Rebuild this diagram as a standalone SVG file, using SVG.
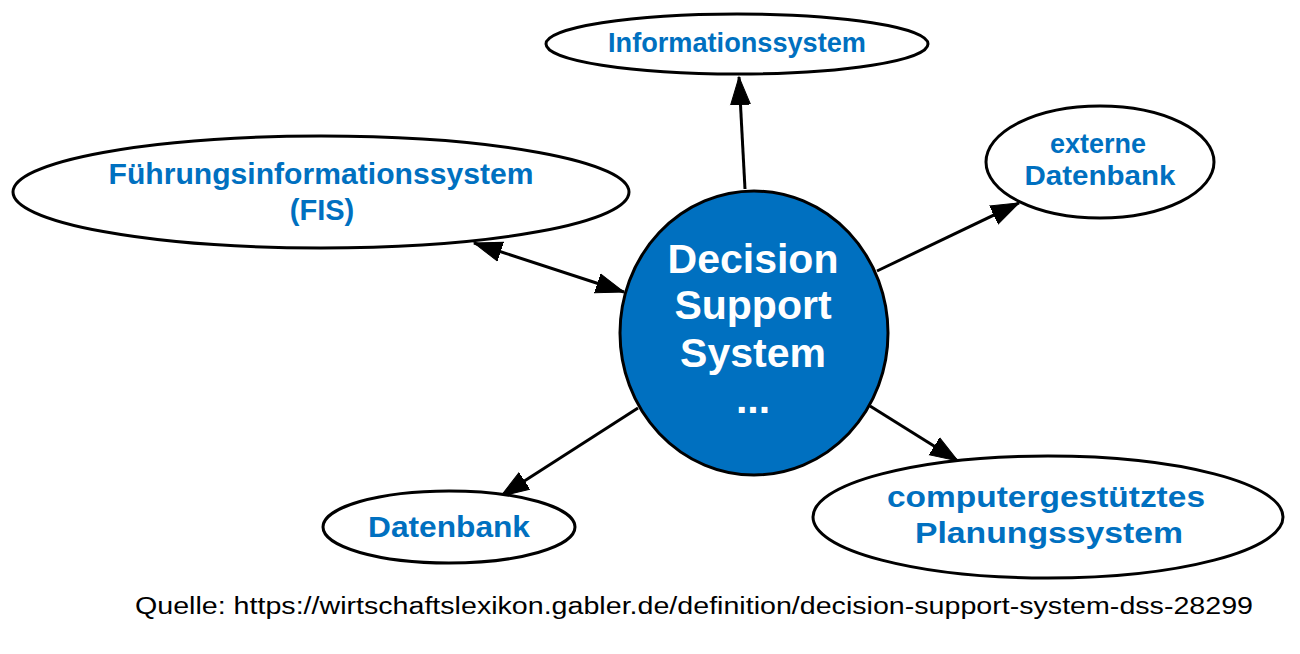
<svg xmlns="http://www.w3.org/2000/svg" width="1300" height="654" viewBox="0 0 1300 654">
<style>
.node ellipse{fill:#ffffff;stroke:#000000;stroke-width:3}
.lbl{font-family:"Liberation Sans",Arial,sans-serif;font-weight:bold;fill:#0070C0;text-anchor:middle}
.center ellipse{fill:#0070C0;stroke:#000000;stroke-width:3}
.clbl{font-family:"Liberation Sans",Arial,sans-serif;font-weight:bold;fill:#ffffff;text-anchor:middle;font-size:41px}
.edge{stroke:#000000;stroke-width:3;fill:none}
.src{font-family:"Liberation Sans",Arial,sans-serif;fill:#000000;font-size:23px;text-anchor:middle}
</style>
<defs>
<marker id="arr" markerUnits="userSpaceOnUse" markerWidth="30" markerHeight="22" viewBox="0 0 30 22" refX="28" refY="11" orient="auto-start-reverse">
<path d="M0,1 L28,11 L0,21 z" fill="#000000" stroke="#000000" stroke-width="1"/>
</marker>
</defs>
<g id="connectors">
<line class="edge" x1="745" y1="189" x2="739" y2="77" marker-end="url(#arr)"/>
<line class="edge" x1="474" y1="243" x2="624" y2="292" marker-start="url(#arr)" marker-end="url(#arr)"/>
<line class="edge" x1="877" y1="271" x2="1019" y2="203" marker-end="url(#arr)"/>
<line class="edge" x1="638" y1="408" x2="501" y2="496" marker-end="url(#arr)"/>
<line class="edge" x1="870" y1="406" x2="958" y2="461" marker-end="url(#arr)"/>
</g>
<g id="n-dss" class="center">
<ellipse cx="754" cy="333" rx="134" ry="142"/>
<text class="clbl" x="753" y="273">Decision</text>
<text class="clbl" x="753" y="319">Support</text>
<text class="clbl" x="753" y="367">System</text>
<text class="clbl" x="753" y="413">...</text>
</g>
<g id="n-informationssystem" class="node">
<ellipse cx="737" cy="44" rx="191" ry="30"/>
<text class="lbl" x="737" y="52" font-size="27" textLength="258" lengthAdjust="spacingAndGlyphs">Informationssystem</text>
</g>
<g id="n-fis" class="node">
<ellipse cx="321" cy="192" rx="308" ry="56"/>
<text class="lbl" x="321" y="184" font-size="29" textLength="425" lengthAdjust="spacingAndGlyphs">Führungsinformationssystem</text>
<text class="lbl" x="322" y="220" font-size="29">(FIS)</text>
</g>
<g id="n-externe" class="node">
<ellipse cx="1100" cy="162" rx="114" ry="56"/>
<text class="lbl" x="1098" y="153" font-size="27">externe</text>
<text class="lbl" x="1100" y="185" font-size="27" textLength="151" lengthAdjust="spacingAndGlyphs">Datenbank</text>
</g>
<g id="n-datenbank" class="node">
<ellipse cx="449" cy="527" rx="126" ry="36"/>
<text class="lbl" x="449" y="537" font-size="29" textLength="162" lengthAdjust="spacingAndGlyphs">Datenbank</text>
</g>
<g id="n-cps" class="node">
<ellipse cx="1048" cy="517" rx="235" ry="61"/>
<text class="lbl" x="1046" y="507" font-size="30" textLength="318" lengthAdjust="spacingAndGlyphs">computergestütztes</text>
<text class="lbl" x="1049" y="543" font-size="30" textLength="268" lengthAdjust="spacingAndGlyphs">Planungssystem</text>
</g>
<text class="src" x="694" y="614" textLength="1118" lengthAdjust="spacingAndGlyphs">Quelle: https://wirtschaftslexikon.gabler.de/definition/decision-support-system-dss-28299</text>
</svg>
